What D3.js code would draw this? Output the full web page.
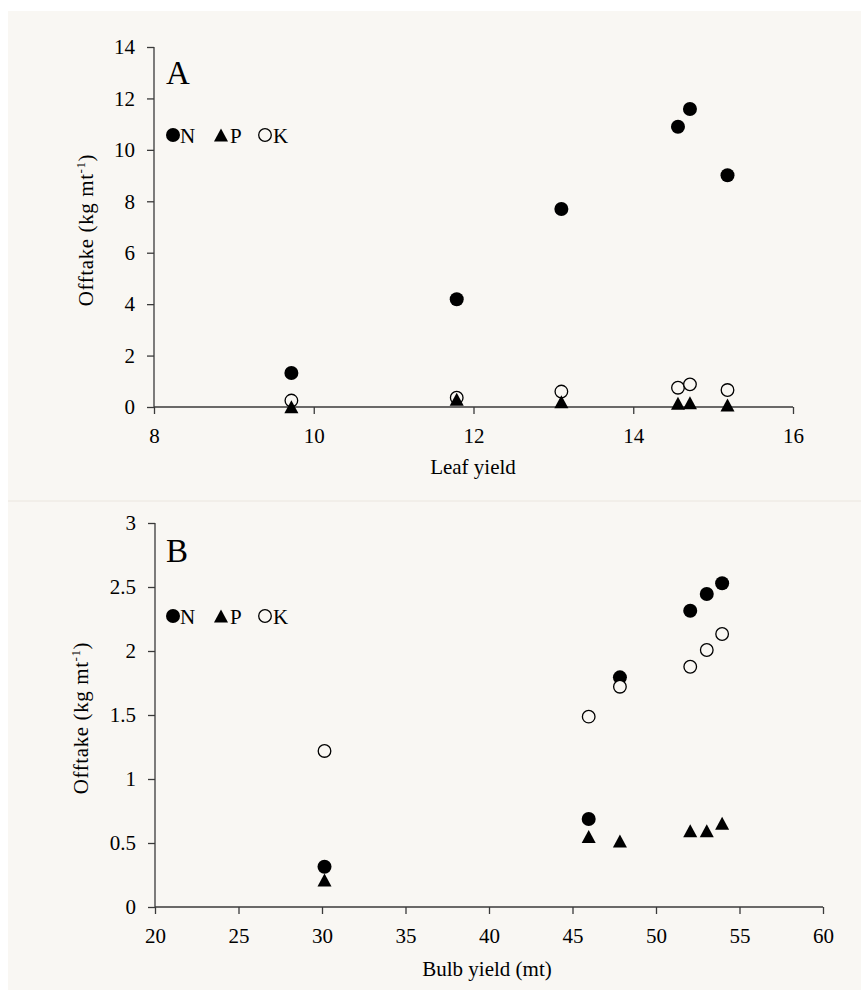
<!DOCTYPE html>
<html>
<head>
<meta charset="utf-8">
<script src="https://cdn.jsdelivr.net/npm/d3@7"></script>
<style>
  body { margin: 0; background: #fff; }
  svg text { font-family: "Liberation Serif", "Times New Roman", serif; fill: #000; }
</style>
</head>
<body>
<svg id="chart" width="861" height="997"></svg>
<script>
// panel A - leaf
const leafYield = [9.72, 11.79, 13.10, 14.56, 14.71, 15.18]
const leafN = [1.32, 4.19, 7.70, 10.90, 11.59, 9.01]
const leafP = [0.01, 0.30, 0.20, 0.15, 0.17, 0.08]
const leafK = [0.25, 0.36, 0.60, 0.75, 0.88, 0.66]
const leafXTicks = [8, 10, 12, 14, 16]
const leafYTicks = [0, 2, 4, 6, 8, 10, 12, 14]

// panel B - bulb
const bulbYield = [30.15, 45.97, 47.84, 52.05, 53.04, 53.96]
const bulbN = [0.315, 0.687, 1.794, 2.315, 2.445, 2.529]
const bulbP = [0.21, 0.55, 0.515, 0.596, 0.596, 0.654]
const bulbK = [1.219, 1.487, 1.721, 1.877, 2.008, 2.133]
const bulbXTicks = [20, 25, 30, 35, 40, 45, 50, 55, 60]
const bulbYTicks = [0, 0.5, 1, 1.5, 2, 2.5, 3]

const bg = '#f9f7f3'
const axisCol = '#3a3a3a'
const svg = d3.select('#chart')

// background for both panels + thin divider
svg.append('rect').attr('x', 8).attr('y', 11).attr('width', 853).attr('height', 979).attr('fill', bg)
svg.append('line').attr('x1', 8).attr('x2', 861).attr('y1', 501).attr('y2', 501)
    .attr('stroke', '#ebe6df').attr('stroke-width', 1)

function triPath(s) {
    // upward triangle, centred on its box
    return `M0,${-s}L${s * 1.08},${s}L${-s * 1.08},${s}Z`
}

function drawPanel(cfg) {
    const x = d3.scaleLinear().domain(cfg.xDom).range(cfg.xRange)
    const y = d3.scaleLinear().domain(cfg.yDom).range(cfg.yRange)
    const g = svg.append('g')

    const yAxis = d3.axisLeft(y).tickValues(cfg.yTicks).tickSize(7).tickPadding(12)
        .tickFormat(d3.format('~g'))
    const xAxis = d3.axisBottom(x).tickValues(cfg.xTicks).tickSize(7).tickPadding(14)
        .tickFormat(d3.format('~g'))

    g.append('g').attr('transform', `translate(${cfg.xRange[0]},0)`).call(yAxis)
    g.append('g').attr('transform', `translate(0,${cfg.yRange[0]})`).call(xAxis)
    g.selectAll('.tick line').attr('stroke', axisCol).attr('stroke-width', 1.3)
    g.selectAll('.tick text').style('font-size', '21px')

    // plain axis lines instead of d3's domain path
    g.selectAll('.domain').remove()
    g.append('line').attr('x1', cfg.xRange[0]).attr('x2', cfg.xRange[0])
        .attr('y1', cfg.yRange[0]).attr('y2', cfg.yRange[1])
        .attr('stroke', axisCol).attr('stroke-width', 1.3)
    g.append('line').attr('x1', cfg.xRange[0]).attr('x2', cfg.xRange[1])
        .attr('y1', cfg.yRange[0]).attr('y2', cfg.yRange[0])
        .attr('stroke', axisCol).attr('stroke-width', 1.3)

    // points: N, K, P
    g.selectAll('.n').data(cfg.xs).enter().append('circle')
        .attr('cx', (d) => x(d)).attr('cy', (d, i) => y(cfg.n[i]))
        .attr('r', 7).attr('fill', '#000')
    g.selectAll('.k').data(cfg.xs).enter().append('circle')
        .attr('cx', (d) => x(d)).attr('cy', (d, i) => y(cfg.k[i]))
        .attr('r', 6.3).attr('fill', bg).attr('stroke', '#000').attr('stroke-width', 1.3)
    g.selectAll('.p').data(cfg.xs).enter().append('path')
        .attr('transform', (d, i) => `translate(${x(d)},${y(cfg.p[i])})`)
        .attr('d', triPath(6.5)).attr('fill', '#000')

    // panel letter
    g.append('text').attr('x', 166).attr('y', cfg.letterY)
        .style('font-size', '33px').text(cfg.letter)

    // legend
    const ly = cfg.legendY
    g.append('circle').attr('cx', 173).attr('cy', ly).attr('r', 7).attr('fill', '#000')
    g.append('text').attr('x', 180).attr('y', ly + 7.5).style('font-size', '21px').text('N')
    g.append('path').attr('transform', `translate(221,${ly})`).attr('d', triPath(6.5)).attr('fill', '#000')
    g.append('text').attr('x', 230).attr('y', ly + 7.5).style('font-size', '21px').text('P')
    g.append('circle').attr('cx', 265).attr('cy', ly).attr('r', 6.3)
        .attr('fill', bg).attr('stroke', '#000').attr('stroke-width', 1.3)
    g.append('text').attr('x', 273).attr('y', ly + 7.5).style('font-size', '21px').text('K')

    // axis titles
    g.append('text').attr('x', cfg.xTitleX).attr('y', cfg.xTitleY)
        .attr('text-anchor', 'middle').style('font-size', '21px').text(cfg.xTitle)
    const yt = g.append('text')
        .attr('transform', `translate(${cfg.yTitleX},${(cfg.yRange[0] + cfg.yRange[1]) / 2 + 3}) rotate(-90)`)
        .attr('text-anchor', 'middle').style('font-size', '21px').style('letter-spacing', '0.6px')
    yt.append('tspan').text('Offtake (kg mt')
    yt.append('tspan').attr('dy', -8).style('font-size', '13px').text('-1')
    yt.append('tspan').attr('dy', 8).text(')')
}

drawPanel({
    xDom: [8, 16], xRange: [154, 793],
    yDom: [0, 14], yRange: [407, 47],
    xTicks: leafXTicks, yTicks: leafYTicks,
    xs: leafYield, n: leafN, p: leafP, k: leafK,
    letter: 'A', letterY: 84, legendY: 135,
    xTitle: 'Leaf yield', xTitleX: 473, xTitleY: 474, yTitleX: 93
})

drawPanel({
    xDom: [20, 60], xRange: [155, 823],
    yDom: [0, 3], yRange: [907, 523],
    xTicks: bulbXTicks, yTicks: bulbYTicks,
    xs: bulbYield, n: bulbN, p: bulbP, k: bulbK,
    letter: 'B', letterY: 562, legendY: 616,
    xTitle: 'Bulb yield (mt)', xTitleX: 487, xTitleY: 976, yTitleX: 88
})
</script>
</body>
</html>
